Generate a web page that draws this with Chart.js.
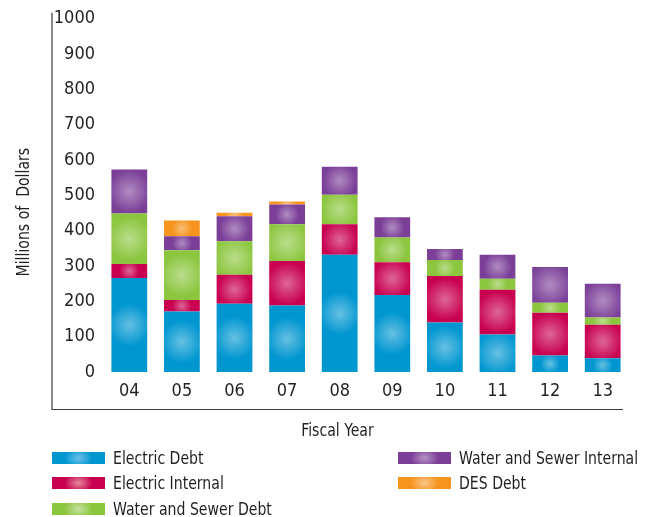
<!DOCTYPE html>
<html>
<head>
<meta charset="utf-8">
<title>Debt by Fiscal Year</title>
<script src="https://cdn.jsdelivr.net/npm/chart.js@4"></script>
<style>
    body { margin: 0; background: #fff; }
    #wrap { position: relative; width: 659px; height: 517px; }
    #legend {
        position: absolute; left: 52px; top: 445px;
        display: grid; grid-auto-flow: column;
        grid-template-rows: repeat(3, 25.5px);
        grid-template-columns: 346px 260px;
        font-family: "DejaVu Sans Condensed", "Liberation Sans", sans-serif;
        font-size: 17px; color: #231f20;
    }
    .item { display: flex; align-items: center; white-space: nowrap; }
    .swatch { flex: 0 0 53px; height: 12px; margin-right: 8px; }
    .txt { display: inline-block; transform: scaleX(0.92); transform-origin: left center; }
</style>
</head>
<body>
<div id="wrap">
    <canvas id="debtChart" width="659" height="517"></canvas>
    <div id="legend"></div>
</div>
<script>
const years = ['04', '05', '06', '07', '08', '09', '10', '11', '12', '13'];
const electricDebt = [266, 171, 193, 188, 332, 218, 140, 106, 47, 39];
const electricInternal = [40, 33, 82, 126, 86, 93, 132, 127, 121, 95];
const waterSewerDebt = [143, 141, 95, 104, 84, 70, 45, 31, 28, 20];
const waterSewerInternal = [124, 39, 71, 56, 79, 57, 31, 68, 101, 96];
const desDebt = [0, 45, 10, 9, 0, 0, 0, 0, 0, 0];

const FONT = '"DejaVu Sans Condensed", "Liberation Sans", sans-serif';
const TEXT = '#231f20';

const series = [
    { label: 'Electric Debt', data: electricDebt, color: '#0096d0', light: '#6cc0ea' },
    { label: 'Electric Internal', data: electricInternal, color: '#c8004f', light: '#e6899c' },
    { label: 'Water and Sewer Debt', data: waterSewerDebt, color: '#8cc63f', light: '#c8e2a3' },
    { label: 'Water and Sewer Internal', data: waterSewerInternal, color: '#7b3f98', light: '#b893c9' },
    { label: 'DES Debt', data: desDebt, color: '#f7941e', light: '#fcc589' }
];

// soft highlight in the middle of each bar segment
const glowPlugin = {
    id: 'glow',
    afterDatasetsDraw(chart) {
        const ctx = chart.ctx;
        chart.data.datasets.forEach((ds, i) => {
            const meta = chart.getDatasetMeta(i);
            meta.data.forEach(bar => {
                const p = bar.getProps(['x', 'y', 'base', 'width'], true);
                const h = Math.abs(p.base - p.y);
                if (h < 0.5) return;
                const left = p.x - p.width / 2;
                const top = Math.min(p.y, p.base);
                const cy = top + h / 2;
                const r = Math.max(Math.min(p.width, h) * 0.6, 10);
                const g = ctx.createRadialGradient(p.x, cy, 0, p.x, cy, r);
                g.addColorStop(0, 'rgba(255,255,255,0.4)');
                g.addColorStop(1, 'rgba(255,255,255,0)');
                ctx.save();
                ctx.fillStyle = g;
                ctx.fillRect(left, top, p.width, h);
                ctx.restore();
            });
        });
    }
};

// L-shaped frame plus axis titles
const framePlugin = {
    id: 'frame',
    afterDraw(chart) {
        const { ctx, chartArea: a } = chart;
        const left = a.left - 51;
        const top = a.top - 6;
        const bottom = a.bottom + 37.5;
        const right = a.right - 6;
        ctx.save();
        ctx.strokeStyle = '#3a3a3a';
        ctx.lineWidth = 1.2;
        ctx.beginPath();
        ctx.moveTo(left, top);
        ctx.lineTo(left, bottom);
        ctx.lineTo(right, bottom);
        ctx.stroke();

        ctx.fillStyle = TEXT;
        ctx.font = '17px ' + FONT;
        ctx.textAlign = 'center';
        ctx.textBaseline = 'middle';
        ctx.save();
        ctx.translate((left + right) / 2, bottom + 22);
        ctx.scale(0.92, 1);
        ctx.fillText('Fiscal Year', 0, 0);
        ctx.restore();
        ctx.translate(left - 27, (top + bottom) / 2 + 1);
        ctx.rotate(-Math.PI / 2);
        ctx.scale(0.92, 1);
        ctx.fillText('Millions of  Dollars', 0, 0);
        ctx.restore();
    }
};

const chart = new Chart(document.getElementById('debtChart').getContext('2d'), {
    type: 'bar',
    data: {
        labels: years,
        datasets: series.map(s => ({
            label: s.label,
            data: s.data,
            backgroundColor: s.color,
            borderWidth: 0,
            categoryPercentage: 1,
            barPercentage: 0.68
        }))
    },
    options: {
        responsive: false,
        animation: false,
        devicePixelRatio: 1,
        layout: { padding: { left: 0, right: 30, top: 16, bottom: 0 } },
        plugins: {
            legend: { display: false },
            tooltip: { enabled: false }
        },
        scales: {
            x: {
                stacked: true,
                grid: { display: false, drawTicks: false },
                border: { display: false },
                ticks: { font: { family: FONT, size: 18 }, color: TEXT, padding: 9 },
                afterFit: s => { s.height = 145; }
            },
            y: {
                stacked: true,
                min: 0,
                max: 1000,
                grid: { display: false, drawTicks: false },
                border: { display: false },
                ticks: {
                    stepSize: 100,
                    font: { family: FONT, size: 18 },
                    color: TEXT,
                    padding: 8,
                    callback: v => String(v)
                },
                afterFit: s => { s.width = 103; }
            }
        }
    },
    plugins: [glowPlugin, framePlugin]
});

// legend laid out in columns like the original
const legendEl = document.getElementById('legend');
series.forEach(s => {
    const item = document.createElement('div');
    item.className = 'item';
    const sw = document.createElement('span');
    sw.className = 'swatch';
    sw.style.background = 'radial-gradient(ellipse 14px 10px at center, ' + s.light + ' 0%, ' + s.color + ' 100%)';
    const txt = document.createElement('span');
    txt.className = 'txt';
    txt.textContent = s.label;
    item.appendChild(sw);
    item.appendChild(txt);
    legendEl.appendChild(item);
});
</script>
</body>
</html>
